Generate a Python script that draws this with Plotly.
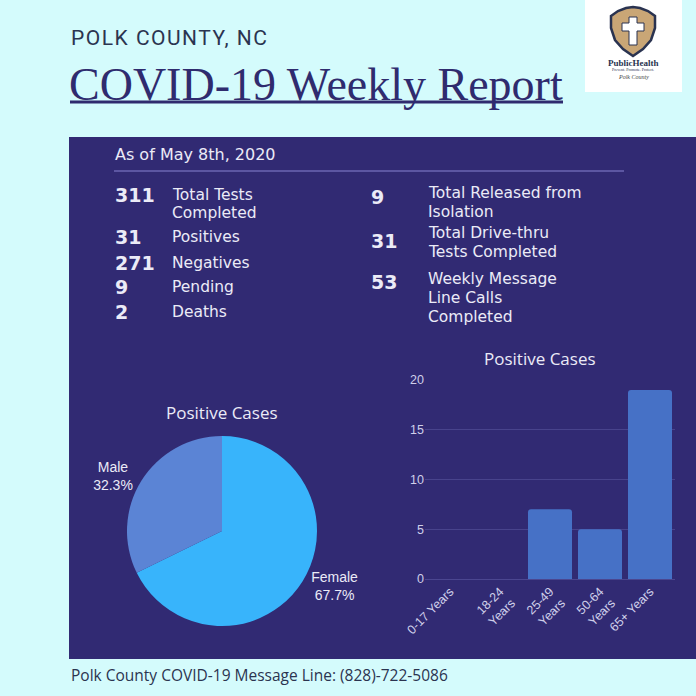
import plotly.graph_objects as go

# data
left_values = ["311", "31", "271", "9", "2"]
left_labels = ["Total Tests<br>Completed", "Positives", "Negatives", "Pending", "Deaths"]
right_values = ["9", "31", "53"]
right_labels = ["Total Released from<br>Isolation", "Total Drive-thru<br>Tests Completed",
                "Weekly Message<br>Line Calls<br>Completed"]

sex_labels = ["Female", "Male"]
sex_cases = [21, 10]

age_groups = ["0-17 Years", "18-24<br>Years", "25-49<br>Years", "50-64<br>Years", "65+ Years"]
age_cases = [0, 0, 7, 5, 19]

W = 696
BG = "#d4fbfc"
PANEL = "#312a73"
NAVY = "#2f2b6e"
TXT = "#ebebf7"


def px(x):
    return x / W


def py(y):
    return 1 - y / W


fig = go.Figure()

fig.add_trace(go.Pie(
    labels=sex_labels, values=sex_cases, sort=False, direction="clockwise",
    marker=dict(colors=["#38b4fb", "#5b84d5"], line=dict(width=0)),
    textinfo="label+percent", textposition="outside",
    outsidetextfont=dict(family="Liberation Sans", size=14, color=TXT),
    domain=dict(x=[px(127), px(317)], y=[py(626), py(436)]),
    showlegend=False, hoverinfo="label+value+percent", automargin=False,
))

fig.add_trace(go.Bar(
    x=age_groups, y=age_cases,
    marker=dict(color="#4671c6", cornerradius=3, line=dict(width=0)),
    showlegend=False,
))

fig.update_layout(
    width=W, height=W, margin=dict(l=0, r=0, t=0, b=0, pad=0),
    paper_bgcolor=BG, plot_bgcolor=PANEL,
    bargap=0.12,
    xaxis=dict(domain=[px(425), px(675)], tickangle=-45, showgrid=False, automargin=False,
               tickfont=dict(family="Liberation Sans", size=12.5, color="#cfcfea"),
               showline=False, ticks=""),
    yaxis=dict(domain=[py(581), py(380)], range=[-0.2, 20], dtick=5, automargin=False,
               gridcolor="#48438c", zeroline=True, zerolinecolor="#4b4690", zerolinewidth=1,
               showline=False,
               tickfont=dict(family="Liberation Sans", size=12.5, color="#cfcfea"),
               ticks="", ticklen=6, tickcolor="rgba(0,0,0,0)"),
)

shapes = [
    # dark panel
    dict(type="rect", xref="paper", yref="paper", x0=px(69), x1=1.0, y0=py(659), y1=py(137),
         fillcolor=PANEL, line=dict(width=0), layer="below"),
    # separator under date
    dict(type="line", xref="paper", yref="paper", x0=px(114), x1=px(624), y0=py(171), y1=py(171),
         line=dict(color="#6b66b2", width=1.5)),
    # title underline
    dict(type="line", xref="paper", yref="paper", x0=px(70), x1=px(563), y0=py(102), y1=py(102),
         line=dict(color=NAVY, width=3)),
    # logo box
    dict(type="rect", xref="paper", yref="paper", x0=px(585), x1=px(682), y0=py(92), y1=1.0,
         fillcolor="white", line=dict(width=0)),
]

# shield in logo
def path(pts):
    s = "M {} {}".format(px(pts[0][0]), py(pts[0][1]))
    for x, y in pts[1:]:
        s += " L {} {}".format(px(x), py(y))
    return s + " Z"

shield = [(611, 16), (618, 11), (626, 8), (633, 7), (640, 8), (648, 11), (655, 16), (655, 28), (651, 40),
          (643, 49), (633, 56), (623, 49), (615, 40), (611, 28)]
shapes.append(dict(type="path", xref="paper", yref="paper", path=path(shield),
                   fillcolor="#c9a676", line=dict(color="#2a3350", width=2.5)))
cross = [(629, 17), (637, 17), (637, 23), (644, 23), (644, 31), (637, 31), (637, 45), (629, 45),
         (629, 31), (622, 31), (622, 23), (629, 23)]
shapes.append(dict(type="path", xref="paper", yref="paper", path=path(cross),
                   fillcolor="white", line=dict(color="#2a3350", width=1)))
fig.update_layout(shapes=shapes)


def note(text, x, y, size, color=TXT, family="DejaVu Sans", xanchor="left", bold=False):
    if bold:
        text = "<b>" + text + "</b>"
    fig.add_annotation(text=text, x=px(x), y=py(y), xref="paper", yref="paper",
                       showarrow=False, xanchor=xanchor, yanchor="middle",
                       font=dict(family=family, size=size, color=color))


note('<span style="letter-spacing:1.5px">POLK COUNTY, NC</span>', 69, 38, 21,
     color="#2b3450", family="Roboto")
note("COVID-19 Weekly Report", 67, 84, 46, color=NAVY, family="Liberation Serif")
note("Polk County COVID-19 Message Line: (828)-722-5086", 69, 675, 15.5, color="#2b3450", family="Open Sans")

note("As of May 8th, 2020", 113, 155, 16)

# left column
left_rows = [195, 237, 263, 287, 312]
for val, lab, y in zip(left_values, left_labels, left_rows):
    note(val, 113, y, 19, bold=True)
    for i, line in enumerate(lab.split("<br>")):
        note(line, 170, y + 18 * i, 15.5)

# right column
right_rows = [193, 233, 279]
right_nums = [197, 241, 282]
for val, lab, y, yn in zip(right_values, right_labels, right_rows, right_nums):
    note(val, 369, yn, 19, bold=True)
    for i, line in enumerate(lab.split("<br>")):
        note(line, 426, y + 19 * i, 15.5)

# chart titles
note("Positive Cases", 222, 413, 17, family="Open Sans", xanchor="center")
note("Positive Cases", 540, 358, 17, family="Open Sans", xanchor="center")

# logo text
note("<b>PublicHealth</b>", 633, 63, 9, color="#2a3350", family="Liberation Serif", xanchor="center")
note("Prevent. Promote. Protect.", 633, 70, 4, color="#2a3350", family="Liberation Serif", xanchor="center")
note("<i>Polk County</i>", 633, 77, 6, color="#444", family="Liberation Serif", xanchor="center")

fig.write_html("out.html", config={"displayModeBar": False},
               post_script="document.body.style.margin='0';")
